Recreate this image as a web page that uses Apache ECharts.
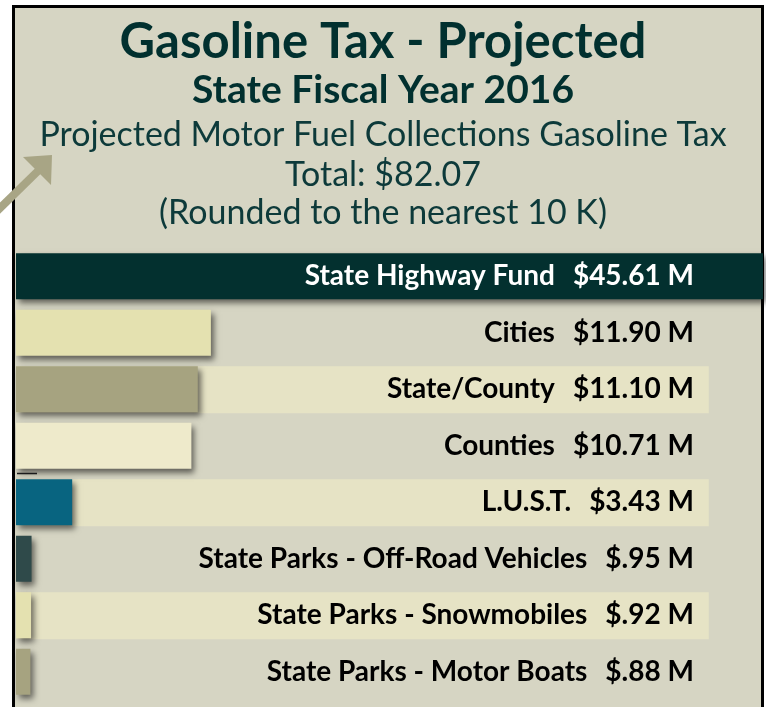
<!DOCTYPE html>
<html>
<head>
<meta charset="utf-8">
<script src="https://cdn.jsdelivr.net/npm/echarts@6/dist/echarts.min.js"></script>
<style>
  html, body { margin: 0; padding: 0; background: #ffffff; }
  #chart { width: 766px; height: 707px; }
</style>
</head>
<body>
<div id="chart"></div>
<script>
// ---- data ----
const categories = [
  'State Highway Fund',
  'Cities',
  'State/County',
  'Counties',
  'L.U.S.T.',
  'State Parks - Off-Road Vehicles',
  'State Parks - Snowmobiles',
  'State Parks - Motor Boats'
];
const values = [45.61, 11.90, 11.10, 10.71, 3.43, 0.95, 0.92, 0.88];
const barColors = ['#03302f', '#e4e1b0', '#a6a380', '#eeeacb', '#086480', '#2f4a4a', '#e4e1b0', '#a6a380'];
const stripeRows = [0, 0, 1, 0, 1, 0, 1, 0];
const stripeEnd = 42.3;

const titleText = 'Gasoline Tax - Projected';
const subtitleText = 'State Fiscal Year 2016';
const noteLines = [
  'Projected Motor Fuel Collections Gasoline Tax',
  'Total: $82.07',
  '(Rounded to the nearest 10 K)'
];

function fmtMoney(v) {
  const s = v.toFixed(2);
  return '$' + (v < 1 ? s.slice(1) : s) + ' M';
}

const FANCY = 'Lato, "Noto Sans", sans-serif';
const PLAIN = 'Lato, "Open Sans", sans-serif';

const chart = echarts.init(document.getElementById('chart'), null, { renderer: 'canvas' });

const option = {
  backgroundColor: '#ffffff',
  animation: false,
  graphic: [
    { type: 'rect', z: -10, shape: { x: 13.5, y: 6.5, width: 749, height: 720 },
      style: { fill: '#d6d5c3', stroke: '#000000', lineWidth: 3 } },
    { type: 'text', z: 5, left: 'center', top: 18,
      style: { text: titleText, fill: '#01302f', font: 'bold 49px ' + FANCY, textAlign: 'center' } },
    { type: 'text', z: 5, left: 'center', top: 71,
      style: { text: subtitleText, fill: '#01302f', font: 'bold 39px ' + FANCY, textAlign: 'center' } },
    { type: 'text', z: 5, left: 'center', top: 118,
      style: { text: noteLines[0], fill: '#0d3a3a', font: '34px ' + PLAIN, textAlign: 'center' } },
    { type: 'text', z: 5, left: 'center', top: 158,
      style: { text: noteLines[1], fill: '#0d3a3a', font: '34px ' + PLAIN, textAlign: 'center' } },
    { type: 'text', z: 5, left: 'center', top: 196,
      style: { text: noteLines[2], fill: '#0d3a3a', font: '34px ' + PLAIN, textAlign: 'center' } },
    { type: 'line', z: 20, shape: { x1: -4, y1: 212, x2: 40, y2: 169 },
      style: { stroke: '#a8a585', lineWidth: 8 } },
    { type: 'polygon', z: 20, shape: { points: [[23, 157], [52, 155], [51, 185]] },
      style: { fill: '#a8a585' } },
    { type: 'line', z: 20, shape: { x1: 17, y1: 473.5, x2: 37, y2: 473.5 },
      style: { stroke: '#1a1a1a', lineWidth: 1.5 } }
  ],
  grid: { left: 16, right: 3, top: 248, bottom: 7, containLabel: false },
  xAxis: {
    type: 'value', min: 0, max: 'dataMax', show: false
  },
  yAxis: {
    type: 'category',
    data: categories,
    inverse: true,
    position: 'right',
    axisLine: { show: false },
    axisTick: { show: false },
    splitLine: { show: false },
    z: 10,
    axisLabel: {
      inside: true,
      margin: 69,
      formatter: function (val, idx) {
        const k = idx === 0 ? 'w' : 'b';
        return '{' + k + 'n|' + val + '}{' + k + 'v|' + fmtMoney(values[idx]) + '}';
      },
      rich: {
        bn: { color: '#000000', fontFamily: FANCY, fontWeight: 'bold', fontSize: 28 },
        bv: { color: '#000000', fontFamily: FANCY, fontWeight: 'bold', fontSize: 28, padding: [0, 0, 0, 18] },
        wn: { color: '#ffffff', fontFamily: FANCY, fontWeight: 'bold', fontSize: 28 },
        wv: { color: '#ffffff', fontFamily: FANCY, fontWeight: 'bold', fontSize: 28, padding: [0, 0, 0, 18] }
      }
    }
  },
  series: [
    {
      name: 'stripe',
      type: 'bar',
      silent: true,
      barWidth: 47,
      barGap: '-100%',
      z: 1,
      itemStyle: { color: '#e6e3c5' },
      data: stripeRows.map(f => f ? stripeEnd : null)
    },
    {
      name: 'Gasoline Tax',
      type: 'bar',
      barWidth: 46,
      barGap: '-100%',
      z: 2,
      data: values.map((v, i) => ({
        value: v,
        itemStyle: {
          color: barColors[i],
          shadowBlur: 6,
          shadowOffsetX: 3,
          shadowOffsetY: 4,
          shadowColor: 'rgba(0,0,0,0.55)'
        }
      }))
    }
  ]
};

chart.setOption(option);
</script>
</body>
</html>
